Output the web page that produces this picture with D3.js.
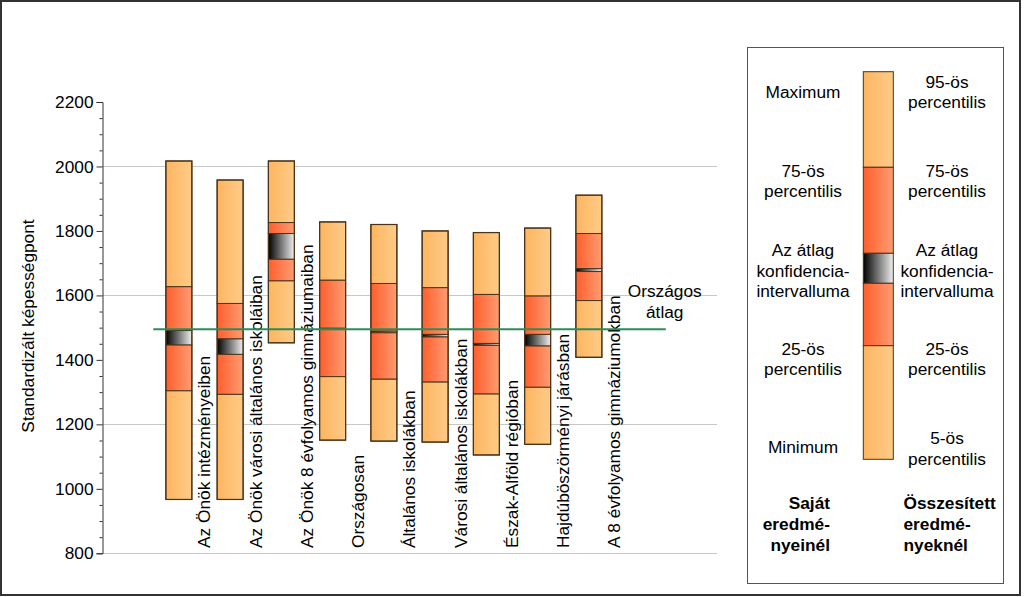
<!DOCTYPE html>
<html>
<head>
<meta charset="utf-8">
<script src="https://cdn.jsdelivr.net/npm/d3@7"></script>
<style>
  html, body { margin: 0; padding: 0; background: #fff; }
  svg { display: block; }
  text { font-family: "Liberation Sans", Arial, sans-serif; fill: #000; }
</style>
</head>
<body>
<svg id="chart" width="1024" height="597"></svg>
<script>
// ---- data ----
const categories = [
  "Az Önök intézményeiben",
  "Az Önök városi általános iskoláiban",
  "Az Önök 8 évfolyamos gimnáziumaiban",
  "Országosan",
  "Általános iskolákban",
  "Városi általános iskolákban",
  "Észak-Alföld régióban",
  "Hajdúböszörményi járásban",
  "A 8 évfolyamos gimnáziumokban"
];
const maxVals  = [2017, 1958, 2017, 1828, 1820, 1800, 1795, 1809, 1911];
const q75Vals  = [1627, 1575, 1826, 1647, 1637, 1624, 1603, 1598, 1792];
const ciHigh   = [1491, 1465, 1792, 1498, 1489, 1479, 1451, 1479, 1683];
const ciLow    = [1446, 1417, 1712, 1494, 1484, 1471, 1445, 1443, 1674];
const q25Vals  = [1304, 1293, 1645, 1348, 1340, 1331, 1294, 1315, 1584];
const minVals  = [ 967,  967, 1453, 1151, 1148, 1145, 1105, 1138, 1408];
const nationalAvg = 1495;
const nationalLabel = ["Országos", "átlag"];
const yTicks = [800, 1000, 1200, 1400, 1600, 1800, 2000, 2200];
const gridTicks = [800, 1200, 1600, 2000];
const yTitle = "Standardizált képességpont";

// legend data
const legendBar = [2200, 1900, 1620, 1540, 1350, 1000]; // schematic: top, q75, ciHigh, ciLow, q25, bottom
const legendLeft = [
  {lines: ["Maximum"], y: 91.7},
  {lines: ["75-ös", "percentilis"], y: 181},
  {lines: ["Az átlag", "konfidencia-", "intervalluma"], y: 270.5},
  {lines: ["25-ös", "percentilis"], y: 359},
  {lines: ["Minimum"], y: 447.3}
];
const legendRight = [
  {lines: ["95-ös", "percentilis"], y: 92},
  {lines: ["75-ös", "percentilis"], y: 181},
  {lines: ["Az átlag", "konfidencia-", "intervalluma"], y: 270.5},
  {lines: ["25-ös", "percentilis"], y: 359},
  {lines: ["5-ös", "percentilis"], y: 448.3}
];
const legendTitleLeft = ["Saját", "eredmé-", "nyeinél"];
const legendTitleRight = ["Összesített", "eredmé-", "nyeknél"];

// ---- drawing ----
const svg = d3.select("#chart");
const FS = 17.3;

// gradients
const defs = svg.append("defs");
function grad(id, c1, c2) {
  const g = defs.append("linearGradient").attr("id", id)
    .attr("x1", "0%").attr("x2", "100%").attr("y1", "0%").attr("y2", "0%");
  g.append("stop").attr("offset", "0%").attr("stop-color", c1);
  g.append("stop").attr("offset", "100%").attr("stop-color", c2);
}
grad("gLight", "#FDB560", "#FFCB88");
grad("gDark", "#FF5E2C", "#FF9C72");
grad("gCI", "#000000", "#F0F0F0");

// outer frame
svg.append("rect").attr("x", 1).attr("y", 1).attr("width", 1019).attr("height", 594)
  .attr("fill", "#fff").attr("stroke", "#333").attr("stroke-width", 2);

const y = d3.scaleLinear().domain([800, 2200]).range([553.3, 102]);
const slots = d3.range(12);
const x = d3.scaleBand().domain(slots).range([102, 717]).paddingInner(0).paddingOuter(0);
const bw = x.bandwidth();
const boxW = 26;

// gridlines
svg.append("g").selectAll("line").data(gridTicks).join("line")
  .attr("x1", 102).attr("x2", 717)
  .attr("y1", d => Math.round(y(d)) + 0.5).attr("y2", d => Math.round(y(d)) + 0.5)
  .attr("stroke", "#c8c8c8").attr("stroke-width", 1);

// y axis
const axis = d3.axisLeft(y).tickValues(yTicks).tickSize(6).tickPadding(3).tickFormat(d3.format("d"));
const gAxis = svg.append("g").attr("transform", "translate(102.5,0)").call(axis);
gAxis.select(".domain").attr("stroke", "#333");
gAxis.selectAll(".tick line").attr("stroke", "#333");
gAxis.selectAll("text").style("font-size", FS + "px").style("font-family", '"Liberation Sans", Arial, sans-serif').attr("fill", "#000");
const minor = d3.range(850, 2200, 50).filter(v => v % 200 !== 0);
svg.append("g").attr("transform", "translate(102.5,0)")
  .call(d3.axisLeft(y).tickValues(minor).tickSize(3).tickFormat(""))
  .call(g => g.select(".domain").remove())
  .selectAll(".tick line").attr("stroke", "#333");

// y title
svg.append("text")
  .attr("transform", `translate(34,${326}) rotate(-90)`)
  .attr("text-anchor", "middle")
  .style("font-size", FS + "px")
  .text(yTitle);

// boxes
const data = categories.map((c, i) => ({
  c, i, max: maxVals[i], q75: q75Vals[i], hi: ciHigh[i], lo: ciLow[i], q25: q25Vals[i], min: minVals[i]
}));
const border = "#4a3418";

function drawBox(g, cx, d, scale) {
  const x0 = cx - boxW / 2;
  const segs = [
    [d.max, d.q75, "url(#gLight)"],
    [d.q75, d.hi, "url(#gDark)"],
    [d.hi, d.lo, "url(#gCI)"],
    [d.lo, d.q25, "url(#gDark)"],
    [d.q25, d.min, "url(#gLight)"]
  ];
  segs.forEach(s => {
    g.append("rect")
      .attr("x", x0).attr("y", scale(s[0]))
      .attr("width", boxW).attr("height", Math.max(0.5, scale(s[1]) - scale(s[0])))
      .attr("fill", s[2]).attr("stroke", border).attr("stroke-width", 1);
  });
  g.append("rect").attr("x", x0).attr("y", scale(d.max))
    .attr("width", boxW).attr("height", scale(d.min) - scale(d.max))
    .attr("fill", "none").attr("stroke", border).attr("stroke-width", 1.2);
}

const gBoxes = svg.append("g");
data.forEach(d => {
  const cx = x(d.i + 1) + bw / 2;
  drawBox(gBoxes.append("g"), cx, d, y);
});

// category labels
svg.append("g").selectAll("text").data(data).join("text")
  .attr("transform", d => `translate(${x(d.i + 1) + bw / 2 + 31.5},548) rotate(-90)`)
  .attr("text-anchor", "start")
  .style("font-size", FS + "px")
  .text(d => d.c);

// national average line
svg.append("line")
  .attr("x1", x(1)).attr("x2", x(10) + bw)
  .attr("y1", y(nationalAvg)).attr("y2", y(nationalAvg))
  .attr("stroke", "#2E8B57").attr("stroke-width", 2);

svg.append("g").selectAll("text").data(nationalLabel).join("text")
  .attr("x", x(10) + bw - 1)
  .attr("y", (d, i) => 297 + i * 21)
  .attr("text-anchor", "middle")
  .style("font-size", FS + "px")
  .text(d => d);

// legend
svg.append("rect").attr("x", 747.5).attr("y", 47.5).attr("width", 256).attr("height", 536)
  .attr("fill", "#fff").attr("stroke", "#555").attr("stroke-width", 1);

const ly = d3.scaleLinear().domain([1000, 2200]).range([459.3, 71.7]);
const legendScale = v => v;
const legendBox = {
  max: 71.7, q75: 167.3, hi: 253.3, lo: 283.3, q25: 345.7, min: 459.3
};
const lgW = 30;
(function () {
  const g = svg.append("g");
  const x0 = 863.3;
  const segs = [
    [legendBox.max, legendBox.q75, "url(#gLight)"],
    [legendBox.q75, legendBox.hi, "url(#gDark)"],
    [legendBox.hi, legendBox.lo, "url(#gCI)"],
    [legendBox.lo, legendBox.q25, "url(#gDark)"],
    [legendBox.q25, legendBox.min, "url(#gLight)"]
  ];
  segs.forEach(s => {
    g.append("rect").attr("x", x0).attr("y", s[0]).attr("width", lgW).attr("height", s[1] - s[0])
      .attr("fill", s[2]).attr("stroke", border).attr("stroke-width", 1);
  });
})();

function legendText(items, cx) {
  items.forEach(it => {
    const n = it.lines.length;
    it.lines.forEach((t, k) => {
      svg.append("text")
        .attr("x", cx)
        .attr("y", it.y + (k - (n - 1) / 2) * 20.5 + 6)
        .attr("text-anchor", "middle")
        .style("font-size", FS + "px")
        .text(t);
    });
  });
}
legendText(legendLeft, 803);
legendText(legendRight, 947);

legendTitleLeft.forEach((t, k) => {
  svg.append("text").attr("x", 830).attr("y", 509 + k * 21)
    .attr("text-anchor", "end").style("font-size", FS + "px").style("font-weight", "bold").text(t);
});
legendTitleRight.forEach((t, k) => {
  svg.append("text").attr("x", 903.5).attr("y", 509 + k * 21)
    .attr("text-anchor", "start").style("font-size", FS + "px").style("font-weight", "bold").text(t);
});
</script>
</body>
</html>
